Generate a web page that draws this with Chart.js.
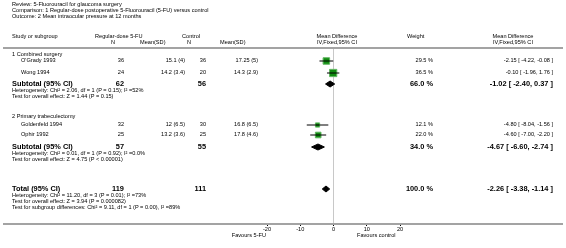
<!DOCTYPE html>
<html lang="en">
<head>
<meta charset="UTF-8" />
<title>5-Fluorouracil for glaucoma surgery</title>
<script src="https://cdn.jsdelivr.net/npm/chart.js"></script>
<style>
  html, body { margin: 0; padding: 0; background: #fff; }
  #wrap { position: relative; width: 566px; height: 248px; overflow: hidden;
          font-family: "Liberation Sans", Arial, sans-serif; color: #000; }
  #plot { position: absolute; left: 0; top: 0; }
  .t { position: absolute; white-space: nowrap; font-size: 5.6px; line-height: 1; }
  .b { font-weight: bold; font-size: 7.4px; }
  .rule { position: absolute; left: 3px; width: 560px; height: 2px; background: #a3a3a3; }
</style>
</head>
<body>
<div id="wrap">
  <canvas id="plot" width="566" height="248"></canvas>
  <div class="rule" style="top:47px"></div>
  <div class="rule" style="top:223px"></div>
</div>

<script>
// study level data
const groups = ['1 Combined surgery', '2 Primary trabeculectomy'];
const studies = ["O'Grady 1993", 'Wong 1994', 'Goldenfeld 1994', 'Ophir 1992'];
const expN = [36, 24, 32, 25];
const expMean = [15.1, 14.2, 12, 13.2];
const expSD = [4, 3.4, 6.5, 3.6];
const ctlN = [36, 20, 30, 25];
const ctlMean = [17.25, 14.3, 16.8, 17.8];
const ctlSD = [5, 2.9, 6.5, 4.6];
const weight = [29.5, 36.5, 12.1, 22.0];
const md = [-2.15, -0.10, -4.80, -4.60];
const lo = [-4.22, -1.96, -8.04, -7.00];
const hi = [-0.08, 1.76, -1.56, -2.20];

// subtotals + total
const subLabel = ['Subtotal (95% CI)', 'Subtotal (95% CI)', 'Total (95% CI)'];
const subExpN = [62, 57, 119];
const subCtlN = [56, 55, 111];
const subWeight = [66.0, 34.0, 100.0];
const subMd = [-1.02, -4.67, -2.26];
const subLo = [-2.40, -6.60, -3.38];
const subHi = [0.37, -2.74, -1.14];
const subNotes = [
  ['Heterogeneity: Chi\u00b2 = 2.06, df = 1 (P = 0.15); I\u00b2 =52%',
   'Test for overall effect: Z = 1.44 (P = 0.15)'],
  ['Heterogeneity: Chi\u00b2 = 0.01, df = 1 (P = 0.92); I\u00b2 =0.0%',
   'Test for overall effect: Z = 4.75 (P < 0.00001)'],
  ['Heterogeneity: Chi\u00b2 = 11.20, df = 3 (P = 0.01); I\u00b2 =73%',
   'Test for overall effect: Z = 3.94 (P = 0.000082)',
   'Test for subgroup differences: Chi\u00b2 = 9.11, df = 1 (P = 0.00), I\u00b2 =89%']
];

const xTicks = [-20, -10, 0, 10, 20];

// row layout (vertical position of each row on the y scale)
const groupY = [55, 117];
const studyY = [61, 73, 125, 135];
const subY = [84, 147, 189];

const datasets = [];
studies.forEach((s, i) => {
  datasets.push({
    type: 'scatter', showLine: true, order: 1,
    data: [{ x: lo[i], y: studyY[i] }, { x: hi[i], y: studyY[i] }],
    borderColor: '#000', borderWidth: 1, pointRadius: 0
  });
});
datasets.push({
  type: 'scatter', order: 2,
  data: md.map((v, i) => ({ x: v, y: studyY[i] })),
  pointStyle: 'rect',
  pointRadius: weight.map(w => 0.85 * Math.sqrt(w)),
  backgroundColor: '#108a10', borderColor: '#62b862', borderWidth: 1
});
subMd.forEach((m, i) => {
  const y = subY[i];
  datasets.push({
    type: 'scatter', showLine: true, order: 1, fill: 'shape',
    data: [{ x: subLo[i], y }, { x: m, y: y - 3 }, { x: subHi[i], y }, { x: m, y: y + 3 }, { x: subLo[i], y }],
    borderColor: '#000', backgroundColor: '#000', borderWidth: 1, pointRadius: 0
  });
});

const chart = new Chart(document.getElementById('plot'), {
  type: 'scatter',
  data: { datasets },
  options: {
    responsive: false,
    animation: false,
    events: [],
    layout: { padding: { left: 267, right: 166, top: 48, bottom: 10 } },
    plugins: { legend: { display: false }, tooltip: { enabled: false } },
    scales: {
      x: {
        type: 'linear', min: -20, max: 20,
        afterBuildTicks: s => { s.ticks = xTicks.map(v => ({ value: v })); },
        afterFit: s => { s.height = 14; },
        grid: {
          color: c => (c.tick && c.tick.value === 0 ? '#c8c8c8' : 'rgba(0,0,0,0)'),
          tickColor: '#000', tickLength: 2, lineWidth: 1
        },
        border: { display: true, color: '#a3a3a3', width: 2 },
        ticks: { font: { family: 'Liberation Sans', size: 5.6 }, color: '#000', padding: 0, maxRotation: 0, autoSkip: false }
      },
      y: { type: 'linear', display: false, min: 48, max: 224, reverse: true }
    }
  }
});

// table text
const wrap = document.getElementById('wrap');
const yPx = v => chart.scales.y.getPixelForValue(v);
function put(txt, x, y, align, bold) {
  const d = document.createElement('div');
  d.className = 't' + (bold ? ' b' : '');
  d.textContent = txt;
  d.style.left = x + 'px';
  d.style.top = y + 'px';
  const tx = align === 'right' ? '-100%' : align === 'center' ? '-50%' : '0';
  d.style.transform = 'translate(' + tx + ', -50%)';
  wrap.appendChild(d);
}
const ci = (m, a, b) => m.toFixed(2) + ' [ ' + a.toFixed(2) + ', ' + b.toFixed(2) + ' ]';

put('Review:  5-Fluorouracil for glaucoma surgery', 12, 5, 'left');
put('Comparison:  1 Regular-dose postoperative 5-Fluorouracil (5-FU) versus control', 12, 11, 'left');
put('Outcome:  2 Mean intraocular pressure at 12 months', 12, 17, 'left');

put('Study or subgroup', 12, 37, 'left');
put('Regular-dose 5-FU', 95, 37, 'left');
put('Control', 182, 37, 'left');
put('Mean Difference', 337, 37, 'center');
put('Weight', 407, 37, 'left');
put('Mean Difference', 513, 37, 'center');
put('N', 113, 43, 'center');
put('Mean(SD)', 140, 43, 'left');
put('N', 189, 43, 'center');
put('Mean(SD)', 220, 43, 'left');
put('IV,Fixed,95% CI', 337, 43, 'center');
put('IV,Fixed,95% CI', 513, 43, 'center');

groups.forEach((g, i) => put(g, 12, yPx(groupY[i]), 'left'));
studies.forEach((s, i) => {
  const y = yPx(studyY[i]);
  put(s, 21, y, 'left');
  put(String(expN[i]), 124, y, 'right');
  put(expMean[i] + ' (' + expSD[i] + ')', 185, y, 'right');
  put(String(ctlN[i]), 206, y, 'right');
  put(ctlMean[i] + ' (' + ctlSD[i] + ')', 258, y, 'right');
  put(weight[i].toFixed(1) + ' %', 433, y, 'right');
  put(ci(md[i], lo[i], hi[i]), 553, y, 'right');
});
subLabel.forEach((s, i) => {
  const y = yPx(subY[i]);
  put(s, 12, y, 'left', true);
  put(String(subExpN[i]), 124, y, 'right', true);
  put(String(subCtlN[i]), 206, y, 'right', true);
  put(subWeight[i].toFixed(1) + ' %', 433, y, 'right', true);
  put(ci(subMd[i], subLo[i], subHi[i]), 553, y, 'right', true);
  subNotes[i].forEach((n, k) => put(n, 12, yPx(subY[i] + 7 + k * 6), 'left'));
});

put('Favours 5-FU', 266, 236, 'right');
put('Favours control', 357, 236, 'left');
</script>
</body>
</html>
